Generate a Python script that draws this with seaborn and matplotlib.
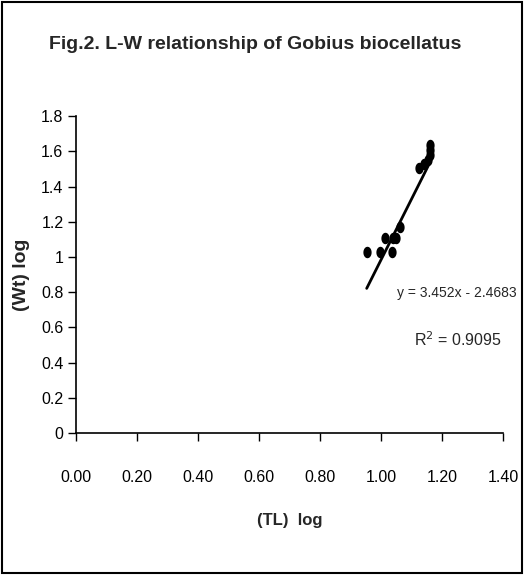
import matplotlib
matplotlib.use("Agg")
import matplotlib.pyplot as plt
import seaborn as sns
import numpy as np
import pandas as pd
from matplotlib.patches import Rectangle
from matplotlib import font_manager

# Data
tl_log = [0.953, 0.997, 1.013, 1.035, 1.040, 1.049, 1.062, 1.125, 1.141, 1.154, 1.161, 1.161, 1.161]
wt_log = [1.03, 1.03, 1.106, 1.03, 1.11, 1.106, 1.172, 1.506, 1.528, 1.551, 1.580, 1.608, 1.636]
slope = 3.452
intercept = -2.4683
r2 = 0.9095
x_ticks = [0.0, 0.2, 0.4, 0.6, 0.8, 1.0, 1.2, 1.4]
y_ticks = [0, 0.2, 0.4, 0.6, 0.8, 1.0, 1.2, 1.4, 1.6, 1.8]
x_ticklabels = ["0.00", "0.20", "0.40", "0.60", "0.80", "1.00", "1.20", "1.40"]
y_ticklabels = ["0", "0.2", "0.4", "0.6", "0.8", "1", "1.2", "1.4", "1.6", "1.8"]
title = "Fig.2. L-W relationship of Gobius biocellatus"

sns.set_theme(style="white")
names = {f.name for f in font_manager.fontManager.ttflist}
fam = ["Liberation Sans Narrow"] if "Liberation Sans Narrow" in names else ["Liberation Sans"]
plt.rcParams["font.family"] = fam + ["DejaVu Sans"]

fig = plt.figure(figsize=(5.24, 5.75), dpi=100)
fig.patch.set_facecolor("white")
ax = fig.add_axes([0.145, 0.247, 0.815, 0.551])

# slightly tall elliptical dot, like the reference markers
t = np.linspace(0, 2 * np.pi, 40)
ell = np.column_stack([0.72 * np.cos(t), np.sin(t)])

df = pd.DataFrame({"TL": tl_log, "Wt": wt_log})
sns.scatterplot(data=df, x="TL", y="Wt", ax=ax, color="black", s=68, marker=ell,
                edgecolor="black", linewidth=0, zorder=3)
xs = np.array([min(tl_log), max(tl_log)])
ax.plot(xs, slope * xs + intercept, color="black", lw=2, zorder=2)

ax.set_xlim(0, 1.4)
ax.set_ylim(0, 1.8)
ax.set_xticks(x_ticks)
ax.set_xticklabels(x_ticklabels)
ax.set_yticks(y_ticks)
ax.set_yticklabels(y_ticklabels)
ax.tick_params(axis="both", direction="out", length=6, width=1, color="black",
               labelsize=11.5, labelcolor="black", bottom=True, left=True)
ax.tick_params(axis="x", pad=21)
ax.tick_params(axis="y", pad=3)
for s in ["top", "right"]:
    ax.spines[s].set_visible(False)
for s in ["left", "bottom"]:
    ax.spines[s].set_color("black")
    ax.spines[s].set_linewidth(1.2)
ax.set_facecolor("white")
ax.set_xlabel("(TL)  log", fontsize=12, fontweight="bold", labelpad=20)
ax.set_ylabel("(Wt) log", fontsize=14, fontweight="bold", labelpad=8,
              family=["Liberation Sans", "DejaVu Sans"])

fig.text(0.487, 0.922, title, fontsize=14, fontweight="bold", ha="center", va="center")

ax.text(1.052, 0.795, f"y = {slope}x - {-intercept}", fontsize=10, ha="left", va="center",
        clip_on=False)
ax.text(1.252, 0.528, f"R$^2$ = {r2}", fontsize=11.5, ha="center", va="center",
        clip_on=False)

fig.add_artist(Rectangle((0.003, 0.004), 0.993, 0.993, transform=fig.transFigure,
                         fill=False, edgecolor="black", lw=1.5))

fig.savefig("out.png", dpi=100, facecolor="white")
